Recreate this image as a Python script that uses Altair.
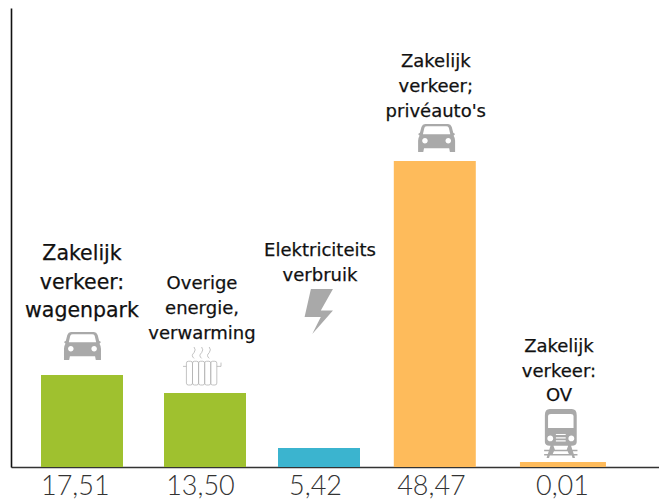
import altair as alt
import pandas as pd

# --- chart values ---
value_labels = ["17,51", "13,50", "5,42", "48,47", "0,01"]
bar_values = [14.57, 11.72, 3.01, 48.47, 0.79]
bar_colors = ["#9fc12f", "#9fc12f", "#3bb4cf", "#febb5b", "#febb5b"]
captions = [
    ["Zakelijk", "verkeer:", "wagenpark"],
    ["Overige", "energie,", "verwarming"],
    ["Elektriciteits", "verbruik"],
    ["Zakelijk", "verkeer;", "privéauto's"],
    ["Zakelijk", "verkeer:", "OV"],
]

# --- layout, kept apart from the values ---
slots = [0.0, 1.025, 1.975, 2.94, 4.008]
label_slots = [-0.06, 0.983, 1.942, 2.908, 4.0]
bar_widths = [82, 82, 82, 82, 86]
cap_font = [20.5, 18, 18, 18, 18]
cap_lh = [28.5, 25, 25, 25, 24.5]
cap_dy = [-115, -104, -192, -94, -110]
cap_dx = [0, -3, 1, 1, -4]
FONT = "DejaVu Sans"
W, H = 648, 459
X0 = -(82 - 11) / 120
X1 = X0 + W / 120
Y1 = 48.47 * H / 306


def level(px):
    return (467 - px) * 48.47 / 306


CAR = ("M-0.62,-0.76 L0.62,-0.76 Q0.76,-0.76 0.82,-0.6 L0.9,-0.28 L1,-0.22 L0.92,-0.12 Q1,0 1,0.15 "
       "L1,0.76 L0.72,0.76 L0.68,0.55 L-0.68,0.55 L-0.72,0.76 L-1,0.76 L-1,0.15 Q-1,0 -0.92,-0.12 "
       "L-1,-0.22 L-0.9,-0.28 L-0.82,-0.6 Q-0.76,-0.76 -0.62,-0.76 Z "
       "M-0.74,-0.2 L0.74,-0.2 L0.66,-0.55 Q0.62,-0.63 0.52,-0.63 L-0.52,-0.63 Q-0.62,-0.63 -0.66,-0.55 Z "
       "M-0.78,0.15 a0.15,0.15 0 1 0 0.3,0 a0.15,0.15 0 1 0 -0.3,0 Z "
       "M0.48,0.15 a0.15,0.15 0 1 0 0.3,0 a0.15,0.15 0 1 0 -0.3,0 Z")
BOLT = "M-0.36,-1 L0.62,-1 L0.08,-0.04 L0.62,-0.04 L-0.3,1 L0.08,0.24 L-0.64,0.24 Z"
TRAIN = ("M-0.45,-1 L0.45,-1 Q0.65,-1 0.65,-0.75 L0.65,0.35 Q0.65,0.5 0.45,0.5 L-0.45,0.5 Q-0.65,0.5 -0.65,0.35 "
         "L-0.65,-0.75 Q-0.65,-1 -0.45,-1 Z "
         "M-0.52,-0.22 L0.52,-0.22 L0.52,-0.7 Q0.52,-0.8 0.4,-0.8 L-0.4,-0.8 Q-0.52,-0.8 -0.52,-0.7 Z "
         "M-0.55,0.2 a0.12,0.12 0 1 0 0.24,0 a0.12,0.12 0 1 0 -0.24,0 Z "
         "M0.31,0.2 a0.12,0.12 0 1 0 0.24,0 a0.12,0.12 0 1 0 -0.24,0 Z "
         "M-0.2,0.06 L0.2,0.06 L0.2,0.02 L-0.2,0.02 Z M-0.2,0.2 L0.2,0.2 L0.2,0.15 L-0.2,0.15 Z "
         "M-0.2,0.33 L0.2,0.33 L0.2,0.28 L-0.2,0.28 Z "
         "M-0.42,0.5 L-0.3,0.5 L-0.24,0.66 L0.24,0.66 L0.3,0.5 L0.42,0.5 L0.47,0.66 L0.68,0.66 L0.68,0.72 L0.49,0.72 "
         "L0.53,0.84 L0.68,0.84 L0.68,0.9 L0.55,0.9 L0.58,1 L0.48,1 L0.45,0.9 L-0.45,0.9 L-0.48,1 L-0.58,1 L-0.55,0.9 "
         "L-0.68,0.9 L-0.68,0.84 L-0.53,0.84 L-0.49,0.72 L-0.68,0.72 L-0.68,0.66 L-0.47,0.66 Z "
         "M-0.28,0.72 L-0.33,0.84 L0.33,0.84 L0.28,0.72 Z")
RAD = ("M-0.82,-0.15 Q-0.82,-0.25 -0.72,-0.25 L-0.6,-0.25 Q-0.5,-0.25 -0.5,-0.15 L-0.5,0.9 Q-0.5,1 -0.6,1 L-0.72,1 Q-0.82,1 -0.82,0.9 Z "
       "M-0.5,-0.15 Q-0.5,-0.25 -0.4,-0.25 L-0.28,-0.25 Q-0.18,-0.25 -0.18,-0.15 L-0.18,0.9 Q-0.18,1 -0.28,1 L-0.4,1 Q-0.5,1 -0.5,0.9 Z "
       "M-0.18,-0.15 Q-0.18,-0.25 -0.08,-0.25 L0.04,-0.25 Q0.14,-0.25 0.14,-0.15 L0.14,0.9 Q0.14,1 0.04,1 L-0.08,1 Q-0.18,1 -0.18,0.9 Z "
       "M0.14,-0.15 Q0.14,-0.25 0.24,-0.25 L0.36,-0.25 Q0.46,-0.25 0.46,-0.15 L0.46,0.9 Q0.46,1 0.36,1 L0.24,1 Q0.14,1 0.14,0.9 Z "
       "M0.46,-0.15 Q0.46,-0.25 0.56,-0.25 L0.68,-0.25 Q0.78,-0.25 0.78,-0.15 L0.78,0.9 Q0.78,1 0.68,1 L0.56,1 Q0.46,1 0.46,0.9 Z "
       "M-1,0.02 L-0.82,0.02 M0.78,0.02 L1,0.02 L1,-0.18 "
       "M-0.42,-0.4 Q-0.6,-0.55 -0.42,-0.7 Q-0.3,-0.85 -0.42,-1 "
       "M-0.02,-0.4 Q-0.2,-0.55 -0.02,-0.7 Q0.1,-0.85 -0.02,-1 "
       "M0.38,-0.4 Q0.2,-0.55 0.38,-0.7 Q0.5,-0.85 0.38,-1")

df = pd.DataFrame({"slot": slots, "value": bar_values, "color": bar_colors, "w": bar_widths})

lookup = "[" + ",".join(f"'{v}'" for v in value_labels) + "]"
slot_list = "[" + ",".join(str(s) for s in label_slots) + "]"
x_enc = alt.X(
    "slot:Q",
    scale=alt.Scale(domain=[X0, X1], nice=False, zero=False, padding=0),
    axis=alt.Axis(
        values=label_slots, title=None, ticks=False, grid=False, domainColor="#333333", domainWidth=1.6,
        labelFont="Lato", labelFontWeight=300, labelFontSize=27, labelColor="#333333", labelPadding=6,
        labelOverlap=False, labelExpr=f"{lookup}[indexof({slot_list}, datum.value)]",
    ),
)
y_enc = alt.Y(
    "value:Q",
    scale=alt.Scale(domain=[0, Y1], nice=False),
    axis=alt.Axis(title=None, ticks=False, labels=False, grid=False, domainColor="#111111", domainWidth=1.6),
)

bars = alt.Chart(df).mark_bar().encode(
    x=x_enc, y=y_enc,
    color=alt.Color("color:N", scale=None),
    size=alt.Size("w:Q", scale=None),
)

layers = [bars]
for i, lines in enumerate(captions):
    row = pd.DataFrame({"slot": [slots[i]], "value": [bar_values[i]], "t": [lines]})
    layers.append(
        alt.Chart(row).mark_text(
            font=FONT, fontSize=cap_font[i], lineHeight=cap_lh[i], color="#111111", align="center",
            baseline="alphabetic", dx=cap_dx[i], dy=cap_dy[i], stroke="#111111", strokeWidth=0.25,
        ).encode(x="slot:Q", y="value:Q", text="t:N")
    )

icons = [
    (CAR, 0.004, 346, 37 ** 2, True),
    (RAD, 1.0, 366, 38 ** 2, False),
    (BOLT, 1.975, 311.5, 45 ** 2, True),
    (CAR, 2.955, 138, 37 ** 2, True),
    (TRAIN, 3.99, 433.5, 49 ** 2, True),
]
for path, s, py, size, filled in icons:
    row = pd.DataFrame({"slot": [s], "value": [level(py)]})
    kw = dict(fill="#a9a9a9", strokeWidth=0, fillOpacity=1) if filled else dict(
        fill=None, stroke="#b4b4b4", strokeWidth=0.8)
    layers.append(
        alt.Chart(row).mark_point(shape=path, size=size, filled=filled, opacity=1, **kw).encode(
            x="slot:Q", y="value:Q")
    )

chart = alt.layer(*layers).properties(
    width=W, height=H, padding={"left": 3, "top": 0, "right": 0, "bottom": 33},
    autosize=alt.AutoSizeParams(type="none"),
).configure_view(strokeWidth=0)

chart.save("out.html", embed_options={"renderer": "svg", "actions": False})
